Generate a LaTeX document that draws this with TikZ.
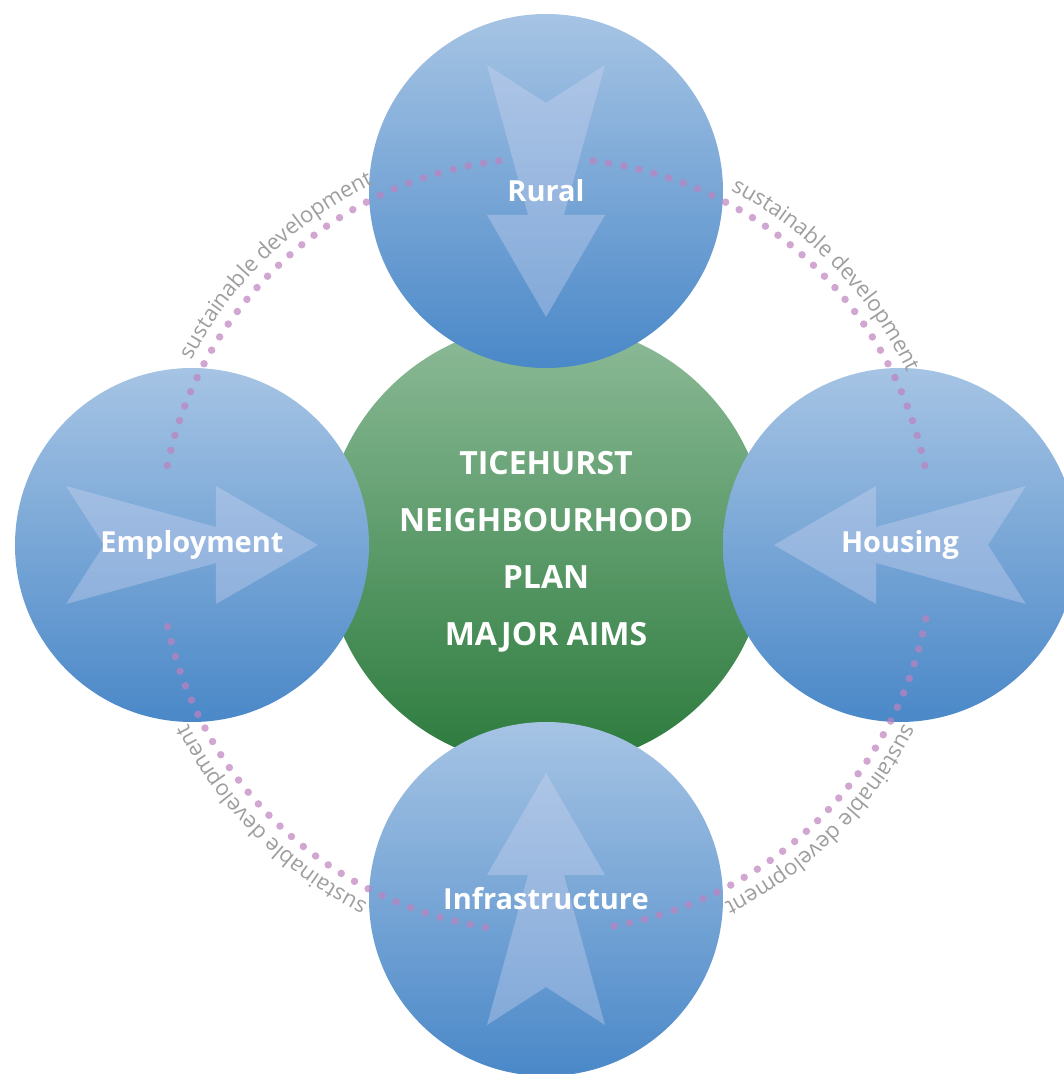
\documentclass[tikz,border=0pt]{standalone}
\usepackage{fontspec}
\usepackage{tikz}
\usetikzlibrary{decorations.text}
\newfontfamily\aimsfont{Open Sans}
\definecolor{bluetop}{RGB}{166,196,228}
\definecolor{bluebot}{RGB}{74,136,200}
\definecolor{greentop}{RGB}{141,187,152}
\definecolor{greenbot}{RGB}{43,122,60}
\definecolor{arrowtint}{RGB}{210,215,242}
\definecolor{ringpink}{RGB}{190,130,190}
\definecolor{sdgray}{RGB}{158,158,158}

\begin{document}
\begin{tikzpicture}[x=1pt, y=1pt,
  core/.style={circle, minimum size=444pt, inner sep=0pt, top color=greentop,
    bottom color=greenbot, text=white, align=center,
    font=\aimsfont\bfseries\fontsize{32}{57}\selectfont},
  aim/.style={circle, minimum size=354pt, inner sep=0pt, top color=bluetop,
    bottom color=bluebot, text=white,
    font=\aimsfont\bfseries\fontsize{29}{35}\selectfont,
    path picture={\pic[rotate=#1] at (path picture bounding box.center) {aimarrow};}},
  pics/aimarrow/.style={code={
    \fill[arrowtint, fill opacity=0.36] (-126,59) -- (-88,0) -- (-126,-59) -- (24,-18)
      -- (24,-59) -- (126,0) -- (24,59) -- (24,18) -- cycle;}},
  ring/.style={ringpink, draw opacity=0.7, line width=7.5pt, line cap=round,
    dash pattern=on 0pt off 15.5pt},
  sd/.style={decorate, decoration={text along path, text align=center,
    text color=sdgray,
    text={|\aimsfont\fontsize{22}{26}\selectfont|sustainable development}}}]
\clip (-546,-529) rectangle (518,545);
% centre
\node[core] (aims) at (0,0) {\rule{0pt}{36pt}TICEHURST\\NEIGHBOURHOOD\\PLAN\\MAJOR AIMS};
% the four aims, arrows point to the centre
\node[aim=-90] (rural) at (0,354) {Rural};
\node[aim=0] (employment) at (-354,0) {Employment};
\node[aim=180] (housing) at (354,0) {Housing};
\node[aim=90] (infrastructure) at (0,-354) {Infrastructure};
% dotted ring
\draw[ring] (97:387) arc[start angle=97, end angle=169, radius=387];
\draw[ring] (83:387) arc[start angle=83, end angle=11, radius=387];
\draw[ring] (-11:387) arc[start angle=-11, end angle=-81, radius=387];
\draw[ring] (-99:387) arc[start angle=-99, end angle=-170, radius=387];
% ring labels
\path[sd] (155:400) arc[start angle=155, end angle=113, radius=400];
\path[sd] (65:400) arc[start angle=65, end angle=23, radius=400];
\path[sd] (-24:400) arc[start angle=-24, end angle=-66, radius=400];
\path[sd] (-114:400) arc[start angle=-114, end angle=-156, radius=400];
\end{tikzpicture}
\end{document}
